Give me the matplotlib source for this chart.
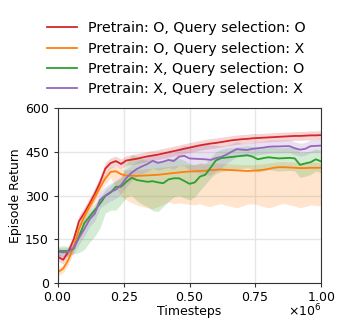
import numpy as np
import matplotlib
matplotlib.use("Agg")
import matplotlib.pyplot as plt
from matplotlib.ticker import ScalarFormatter

steps = np.linspace(0, 1e6, 51)

labels = ["Pretrain: O, Query selection: O",
          "Pretrain: O, Query selection: X",
          "Pretrain: X, Query selection: O",
          "Pretrain: X, Query selection: X"]
colors = ["#d62728", "#ff7f0e", "#2ca02c", "#9467bd"]

red_mean = [90, 80, 108, 150, 212, 240, 272, 306, 345, 392, 411, 418, 408, 420, 423, 426,
            430, 434, 437, 440, 444, 448, 452, 456, 460, 464, 468, 472, 475, 478, 480, 483,
            486, 489, 491, 493, 494, 496, 497, 498, 499, 500, 501, 502, 503, 504, 504, 505,
            506, 506, 507]
red_std = [14, 14, 15, 18, 20, 20, 20, 20, 20, 20, 18, 17, 17, 17, 17, 17,
           17, 17, 17, 17, 17, 17, 17, 17, 17, 17, 17, 17, 17, 17, 17, 17,
           16, 16, 16, 16, 16, 16, 15, 15, 15, 15, 15, 15, 15, 15, 15, 15,
           15, 15, 15]

orange_mean = [37, 50, 80, 125, 185, 228, 262, 294, 328, 358, 381, 383, 373, 368, 368, 367,
               368, 369, 370, 371, 373, 375, 377, 379, 381, 382, 383, 384, 385, 387, 388, 389,
               388, 387, 386, 385, 384, 385, 386, 388, 391, 395, 397, 397, 396, 395, 394, 394,
               395, 395, 395]
orange_lo = [25, 36, 64, 108, 168, 210, 245, 276, 310, 340, 362, 330, 298, 285, 275, 268,
             262, 258, 255, 262, 270, 278, 272, 275, 272, 270, 268, 272, 265, 262, 268, 272,
             266, 262, 258, 264, 270, 272, 268, 262, 258, 262, 270, 272, 268, 264, 258, 262,
             268, 266, 265]
orange_hi = [50, 64, 96, 142, 202, 246, 279, 312, 346, 376, 398, 400, 392, 388, 388, 388,
             390, 392, 394, 396, 398, 400, 402, 404, 405, 406, 407, 408, 408, 409, 410, 410,
             409, 408, 407, 406, 405, 406, 407, 409, 411, 414, 416, 416, 415, 414, 413, 413,
             414, 414, 414]

green_mean = [110, 110, 110, 118, 160, 205, 228, 250, 272, 298, 310, 330, 330, 347, 361, 353,
              350, 347, 349, 345, 342, 355, 359, 359, 350, 340, 345, 365, 371, 395, 420, 428,
              430, 432, 434, 436, 438, 433, 424, 428, 431, 429, 427, 428, 429, 427, 405, 410,
              414, 424, 417]
green_lo = [95, 92, 95, 100, 105, 115, 140, 160, 190, 240, 250, 250, 270, 295, 300, 282,
            270, 262, 248, 245, 262, 280, 295, 300, 292, 285, 295, 318, 338, 360, 375, 382,
            385, 388, 390, 392, 395, 390, 380, 384, 388, 386, 384, 385, 386, 384, 362, 366,
            372, 384, 378]
green_hi = [125, 128, 126, 134, 178, 225, 250, 272, 295, 320, 335, 352, 360, 410, 440, 435,
            425, 420, 420, 418, 420, 425, 428, 428, 420, 410, 405, 412, 410, 430, 450, 458,
            462, 464, 466, 468, 470, 468, 462, 464, 466, 465, 463, 464, 465, 463, 448, 450,
            452, 460, 455]

purple_mean = [107, 105, 107, 120, 155, 185, 218, 238, 285, 300, 312, 320, 336, 360, 378, 391,
               400, 408, 419, 412, 416, 422, 418, 433, 436, 427, 426, 425, 424, 422, 428, 432,
               440, 450, 459, 457, 456, 460, 462, 464, 467, 468, 468, 469, 469, 462, 457, 460,
               469, 470, 471]
purple_std = [15, 15, 16, 18, 22, 25, 25, 25, 28, 30, 30, 30, 30, 30, 28, 26,
              25, 25, 25, 25, 25, 26, 28, 30, 35, 40, 45, 50, 52, 52, 45, 38,
              32, 28, 25, 22, 22, 22, 22, 22, 22, 22, 22, 22, 22, 22, 22, 22,
              22, 22, 22]

fig = plt.figure(figsize=(3.49, 3.30), dpi=100)
ax = fig.add_axes([0.166, 0.142, 0.754, 0.531])

series = [
    (red_mean, np.array(red_mean) - np.array(red_std), np.array(red_mean) + np.array(red_std)),
    (orange_mean, orange_lo, orange_hi),
    (green_mean, green_lo, green_hi),
    (purple_mean, np.array(purple_mean) - np.array(purple_std),
     np.array(purple_mean) + np.array(purple_std)),
]

for (m, lo, hi), c, lab in zip(series, colors, labels):
    ax.fill_between(steps, lo, hi, color=c, alpha=0.2, linewidth=0)
    ax.plot(steps, m, color=c, lw=1.3, label=lab)

ax.set_xlim(0, 1e6)
ax.set_ylim(0, 600)
ax.set_yticks([0, 150, 300, 450, 600])
ax.set_xticks([0, 0.25e6, 0.5e6, 0.75e6, 1e6])
fmt = ScalarFormatter(useMathText=True)
fmt.set_powerlimits((0, 0))
ax.xaxis.set_major_formatter(fmt)
ax.xaxis.get_offset_text().set_visible(False)
ax.text(1.0, -0.19, r"$\times10^{6}$", transform=ax.transAxes, ha="right",
        va="baseline", fontsize=9)
ax.grid(True, color="#e6e6e6", lw=1)
ax.set_axisbelow(True)
ax.tick_params(labelsize=9, length=3, color="#333333")
ax.tick_params(axis="x", pad=2.5)
for sp in ax.spines.values():
    sp.set_color("#333333")
ax.set_xlabel("Timesteps", fontsize=9, labelpad=1)
ax.set_ylabel("Episode Return", fontsize=9, labelpad=2)

fig.legend(loc="upper center", bbox_to_anchor=(0.505, 0.975), frameon=False,
           fontsize=10.3, handlelength=2.1, handletextpad=0.8, labelspacing=0.45)

fig.savefig("out.png", dpi=100)
